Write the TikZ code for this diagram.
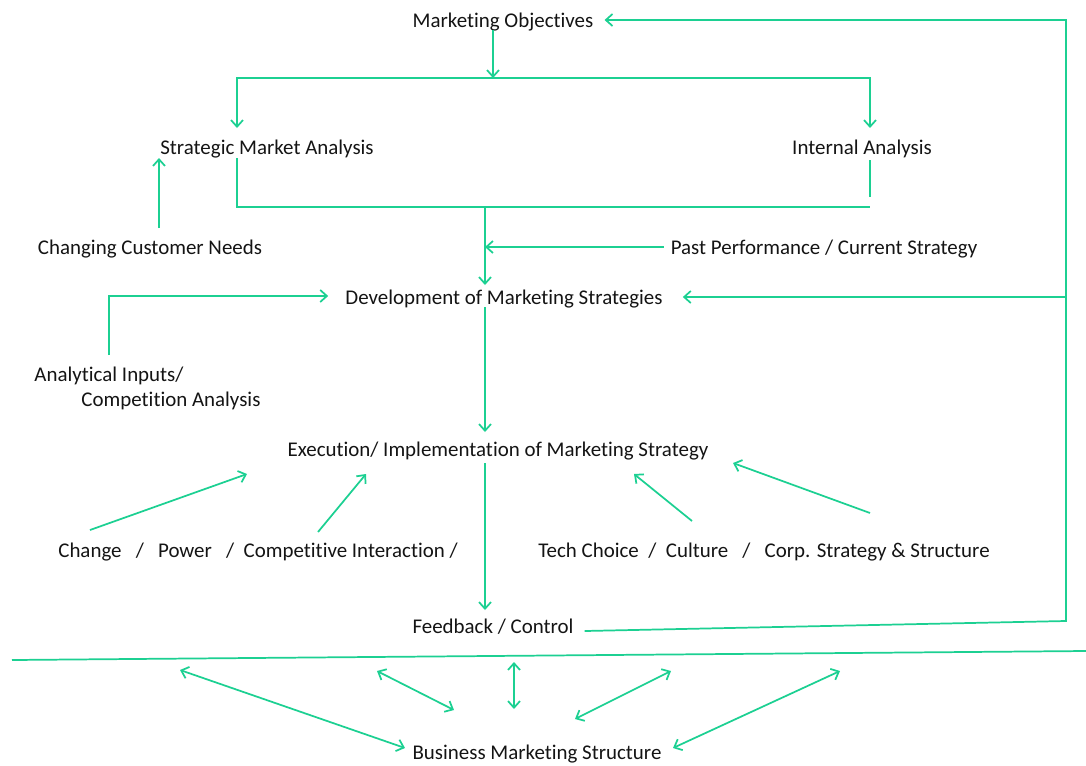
\documentclass[tikz,border=0pt]{standalone}
\usepackage{fontspec}
\setmainfont{Carlito}[Ligatures=NoCommon]
\usetikzlibrary{arrows.meta,calc}
\definecolor{mint}{RGB}{28,208,146}
\definecolor{ink}{RGB}{20,20,20}

\begin{document}
\begin{tikzpicture}[x=0.75pt,y=-0.75pt,>={Straight Barb[length=5pt,width=9pt]},
  lbl/.style={inner sep=0pt,text depth=0pt,text=ink,font=\fontsize{15.7pt}{19pt}\selectfont},
  link/.style={draw=mint,line width=1.3pt}]
\useasboundingbox (0,0) rectangle (1086,765);
% labels
\node[lbl] (obj) at (503,20) {Marketing Objectives};
\node[lbl] (sma) at (267,147) {Strategic Market Analysis};
\node[lbl] (ia) at (862,147) {Internal Analysis};
\node[lbl] (ccn) at (150,247) {Changing Customer Needs};
\node[lbl] (past) at (824,247) {Past Performance / Current Strategy};
\node[lbl] (dev) at (504,297) {Development of Marketing Strategies};
\node[lbl] (ai) at (109,374) {Analytical Inputs/};
\node[lbl] (comp) at (171,399) {Competition Analysis};
\node[lbl] (exe) at (498,449) {Execution/ Implementation of Marketing Strategy};
\node[lbl] (ext) at (258,550) {Change~~~/~~~Power~~~/~~Competitive Interaction /};
\node[lbl] (int) at (764,550) {Tech Choice~~/~~Culture~~~/~~~Corp. Strategy \& Structure};
\node[lbl] (fb) at (493,626) {Feedback / Control};
\node[lbl] (bms) at (537,752) {Business Marketing Structure};
\coordinate (split) at (493,78);
\coordinate (join) at (485,207);
\coordinate (rtop) at (1066,20);
\coordinate (rbot) at (1066,621);
% objectives down to both analyses
\draw[link,->] ($(obj)+(-10,10)$) -- (split);
\draw[link,<->] ($(sma)+(-30,-19)$) |- (split) -| ($(ia)+(8,-19)$);
% analyses merge into strategy development
\draw[link] ($(sma)+(-30,11)$) |- ($(ia)+(8,60)$);
\draw[link] ($(ia)+(8,13)$) -- ($(ia)+(8,50)$);
\draw[link,->] (join) -- ($(dev)+(-19,-12)$);
\draw[link,->] ($(past.west)+(-7,0)$) -- (join |- past);
\draw[link,->] ($(ccn)+(9,-19)$) -- ($(ccn)+(9,-89)$);
\draw[link,->] ($(ai)+(0,-19)$) |- ($(dev.west)+(-17,-1)$);
% feedback loop on the right
\draw[link,->] ($(fb.east)+(11,5)$) -- (rbot) -- (rtop) -- ($(obj.east)+(11,0)$);
\draw[link,->] (rtop |- dev) -- ($(dev.east)+(20,0)$);
% main column
\draw[link,->] ($(dev)+(-19,10)$) -- ($(exe)+(-13,-17)$);
\draw[link,->] ($(exe)+(-13,14)$) -- ($(fb)+(-8,-16)$);
% outside influences on execution
\draw[link,->] ($(ext)+(-168,-20)$) -- ($(ext)+(-11,-76)$);
\draw[link,->] ($(ext)+(60,-18)$) -- ($(ext)+(108,-76)$);
\draw[link,->] ($(int)+(-72,-29)$) -- ($(int)+(-130,-76)$);
\draw[link,->] ($(int)+(106,-37)$) -- ($(int)+(-31,-87)$);
% structure line and two-way links
\draw[link] (12,660) -- (1086,651);
\foreach \ax/\ay/\bx/\by in {-357/-82/-132/-4, -160/-81/-83/-42, -23/-90/-23/-43,
  134/-81/38/-33, 303/-81/136/-4}{
  \draw[link,<->] ($(bms)+(\ax,\ay)$) -- ($(bms)+(\bx,\by)$);
}
\end{tikzpicture}
\end{document}
